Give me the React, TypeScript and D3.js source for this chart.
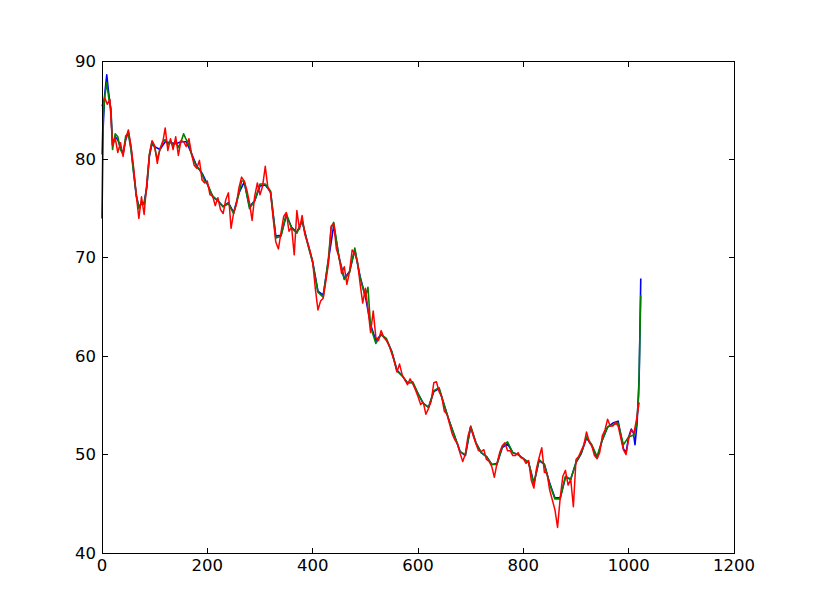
import React from "react";
import * as d3 from "d3";

// Red series: one value every 5 samples, starting at sample 0
const redStep = 5;
const redValues = [
  85.4, 86.3, 85.6, 86.1, 81.4, 82.2, 80.7, 81.7, 80.3, 82.1,
  83.0, 81.4, 79.2, 76.4, 74.0, 76.2, 74.4, 77.6, 80.5, 81.9,
  81.4, 79.6, 81.1, 81.6, 83.2, 80.9, 82.1, 81.0, 82.3, 80.4,
  81.9, 81.8, 81.3, 82.1, 80.6, 79.4, 79.1, 79.9, 77.9, 77.6,
  77.8, 76.4, 76.3, 75.3, 76.1, 74.9, 74.5, 75.9, 76.6, 73.0,
  74.6, 75.4, 77.1, 78.2, 77.8, 76.9, 75.6, 73.8, 76.3, 77.6,
  76.4, 77.3, 79.3, 77.1, 76.6, 74.0, 71.6, 70.9, 72.6, 74.2,
  74.6, 72.7, 73.1, 70.3, 74.8, 72.9, 74.3, 72.4, 71.6, 70.7,
  69.6, 66.9, 64.7, 65.6, 65.9, 67.6, 69.4, 73.2, 73.5, 70.9,
  70.1, 68.4, 69.1, 67.3, 68.6, 70.8, 70.4, 69.6, 67.4, 65.4,
  66.9, 64.8, 62.4, 64.6, 61.9, 61.6, 62.6, 61.9, 61.6, 61.1,
  60.3, 59.5, 58.4, 59.2, 58.1, 57.6, 57.1, 57.7, 57.2, 56.6,
  55.9, 55.1, 55.3, 54.1, 54.7, 55.4, 57.3, 57.4, 56.4, 55.9,
  54.4, 54.1, 53.1, 52.1, 51.5, 51.1, 50.1, 49.3, 50.1, 51.9,
  52.8, 51.9, 51.1, 50.4, 50.3, 50.5, 49.5, 49.3, 48.8, 47.7,
  49.1, 50.2, 50.9, 51.2, 50.4, 50.4, 49.9, 49.9, 50.2, 49.7,
  49.6, 49.1, 49.4, 47.4, 46.6, 48.6, 49.7, 50.7, 48.2, 48.1,
  46.4, 45.4, 44.4, 42.6, 45.6, 47.8, 48.4, 46.9, 47.5, 44.7,
  49.5, 49.8, 50.4, 51.0, 52.3, 51.3, 50.9, 49.9, 49.6, 50.2,
  51.9, 52.5, 53.6, 52.9, 52.9, 53.3, 52.9, 51.7, 50.5, 50.0,
  51.6, 52.5, 52.2, 53.6, 55.3
];

// Green series: explicit sample positions and values
const greenX = [
  0, 2, 5, 9, 13, 17, 20, 25, 30, 35, 40, 45, 50, 55, 60, 65, 70, 75, 80, 85,
  90, 95, 100, 105, 110, 115, 120, 125, 130, 135, 140, 145, 150, 155, 160, 165, 170, 175, 180, 185,
  190, 195, 200, 210, 220, 230, 240, 250, 260, 265, 270, 280, 290, 300, 310, 320, 330, 340, 350, 360,
  370, 380, 390, 400, 410, 420, 430, 435, 440, 450, 460, 470, 480, 490, 500, 505, 510, 520, 530, 540,
  550, 560, 570, 580, 590, 600, 610, 620, 630, 640, 650, 660, 670, 680, 690, 700, 710, 720, 730, 740,
  750, 760, 770, 780, 790, 800, 810, 820, 830, 840, 850, 860, 870, 880, 890, 900, 910, 920, 930, 940,
  950, 960, 970, 980, 990, 1000, 1010, 1015, 1019, 1023
];
const greenValues = [
  80.5, 84.0, 86.3, 87.8, 86.2, 85.2, 81.0, 82.6, 82.3, 81.0, 80.5, 82.4, 82.6, 81.0, 78.6, 76.5, 75.0, 75.6, 75.4, 77.1,
  80.5, 81.8, 81.2, 80.0, 81.0, 81.8, 82.0, 81.5, 81.9, 81.4, 81.8, 81.2, 81.8, 82.6, 82.0, 81.5, 80.5, 79.8, 79.2, 79.0,
  78.5, 77.8, 77.5, 76.3, 75.8, 75.2, 75.5, 74.5, 76.5, 77.8, 77.8, 75.0, 75.8, 77.5, 77.5, 76.8, 72.0, 72.2, 74.5, 73.0,
  72.5, 73.8, 71.5, 69.5, 66.5, 66.0, 70.0, 73.0, 73.6, 70.0, 67.8, 68.5, 71.0, 68.0, 66.0, 67.0, 63.0, 61.3, 62.2, 61.8,
  60.5, 58.5, 58.0, 57.3, 57.4, 56.2, 55.2, 54.8, 56.5, 56.8, 55.0, 53.3, 51.8, 50.3, 50.0, 52.9, 51.2, 50.2, 49.8, 49.0,
  49.0, 50.8, 51.3, 50.2, 50.0, 49.6, 49.2, 47.0, 49.5, 49.0, 47.0, 45.5, 45.5, 47.8, 47.5, 49.2, 50.2, 51.8, 51.0, 49.8,
  51.5, 52.8, 53.0, 53.2, 51.0, 51.8, 52.0, 53.0, 56.0, 66.2
];

// Blue series: explicit sample positions and values
const blueX = [
  0, 2, 5, 9, 13, 17, 20, 25, 30, 35, 40, 45, 50, 55, 60, 65, 70, 75, 80, 85,
  90, 95, 100, 110, 120, 130, 140, 150, 160, 170, 180, 190, 200, 210, 220, 230, 240, 250, 260, 270,
  280, 290, 300, 310, 320, 330, 340, 350, 360, 370, 380, 390, 400, 410, 420, 430, 440, 450, 460, 470,
  480, 490, 500, 510, 520, 530, 540, 550, 560, 570, 580, 590, 600, 610, 620, 630, 640, 650, 660, 670,
  680, 690, 700, 710, 720, 730, 740, 750, 760, 770, 780, 790, 800, 810, 820, 830, 840, 850, 860, 870,
  880, 890, 900, 910, 920, 930, 940, 950, 960, 970, 980, 990, 995, 1000, 1005, 1009, 1012, 1016, 1020, 1023
];
const blueValues = [
  74.0, 83.0, 86.5, 88.6, 86.6, 84.8, 81.5, 82.3, 82.0, 81.2, 80.6, 82.0, 82.8, 81.2, 78.8, 76.3, 75.2, 75.5, 75.6, 77.2,
  80.3, 81.6, 81.3, 81.0, 81.8, 81.7, 81.6, 81.8, 81.8, 80.6, 79.3, 78.6, 77.5, 76.2, 75.8, 75.2, 75.6, 74.6, 76.6, 77.7,
  75.2, 75.8, 77.3, 77.4, 76.7, 72.2, 72.3, 74.3, 73.1, 72.6, 73.7, 71.6, 69.6, 66.6, 66.2, 69.8, 73.3, 70.1, 67.9, 68.6,
  70.8, 68.1, 66.1, 63.2, 61.6, 62.2, 61.7, 60.5, 58.6, 58.0, 57.3, 57.3, 56.2, 55.2, 54.8, 56.4, 56.7, 55.0, 53.3, 51.8,
  50.3, 49.9, 52.8, 51.2, 50.2, 49.8, 49.0, 49.1, 50.7, 51.1, 50.2, 50.0, 49.6, 49.2, 47.1, 49.4, 49.0, 47.1, 45.6, 45.6,
  47.7, 47.5, 49.2, 50.1, 51.7, 50.9, 49.6, 51.5, 52.8, 53.2, 53.4, 50.6, 50.2, 51.8, 52.6, 52.2, 51.0, 53.2, 58.0, 67.9
];

const xTicks = [0, 200, 400, 600, 800, 1000, 1200];
const yTicks = [40, 50, 60, 70, 80, 90];

const W = 815;
const H = 615;
const M = { left: 102, right: 734, top: 61, bottom: 553 };

export default function App() {
  const x = d3.scaleLinear().domain([0, 1200]).range([M.left, M.right]);
  const y = d3.scaleLinear().domain([40, 90]).range([M.bottom, M.top]);

  const redPts: [number, number][] = redValues.map((v, i) => [i * redStep, v]);
  const greenPts: [number, number][] = greenValues.map((v, i) => [greenX[i], v]);
  const bluePts: [number, number][] = blueValues.map((v, i) => [blueX[i], v]);

  const line = d3
    .line<[number, number]>()
    .x((d) => x(d[0]))
    .y((d) => y(d[1]));

  const tickLen = 5.5;
  const font = "'DejaVu Sans', sans-serif";
  const fs = 16.5;

  return (
    <svg
      width={W}
      height={H}
      style={{ position: "absolute", left: 0, top: 0, background: "#fff" }}
    >
      <rect x={0} y={0} width={W} height={H} fill="#ffffff" />
      <g strokeLinejoin="round">
        <path d={line(bluePts) || ""} fill="none" stroke="#0000ff" strokeWidth={1.6} />
        <path d={line(greenPts) || ""} fill="none" stroke="#008000" strokeWidth={1.6} />
        <path d={line(redPts) || ""} fill="none" stroke="#ff0000" strokeWidth={1.5} />
      </g>
      <rect
        x={M.left}
        y={M.top}
        width={M.right - M.left}
        height={M.bottom - M.top}
        fill="none"
        stroke="#000"
        strokeWidth={1}
        shapeRendering="crispEdges"
      />
      {xTicks.map((t) => (
        <g key={"x" + t}>
          <line x1={x(t)} x2={x(t)} y1={M.bottom} y2={M.bottom - tickLen} stroke="#000" shapeRendering="crispEdges" />
          <line x1={x(t)} x2={x(t)} y1={M.top} y2={M.top + tickLen} stroke="#000" shapeRendering="crispEdges" />
          <text
            x={x(t)}
            y={M.bottom + 6}
            textAnchor="middle"
            dominantBaseline="hanging"
            fontFamily={font}
            fontSize={fs}
            fill="#000"
          >
            {t}
          </text>
        </g>
      ))}
      {yTicks.map((t) => (
        <g key={"y" + t}>
          <line x1={M.left} x2={M.left + tickLen} y1={y(t)} y2={y(t)} stroke="#000" shapeRendering="crispEdges" />
          <line x1={M.right} x2={M.right - tickLen} y1={y(t)} y2={y(t)} stroke="#000" shapeRendering="crispEdges" />
          <text
            x={M.left - 6}
            y={y(t)}
            textAnchor="end"
            dominantBaseline="central"
            fontFamily={font}
            fontSize={fs}
            fill="#000"
          >
            {t}
          </text>
        </g>
      ))}
    </svg>
  );
}
